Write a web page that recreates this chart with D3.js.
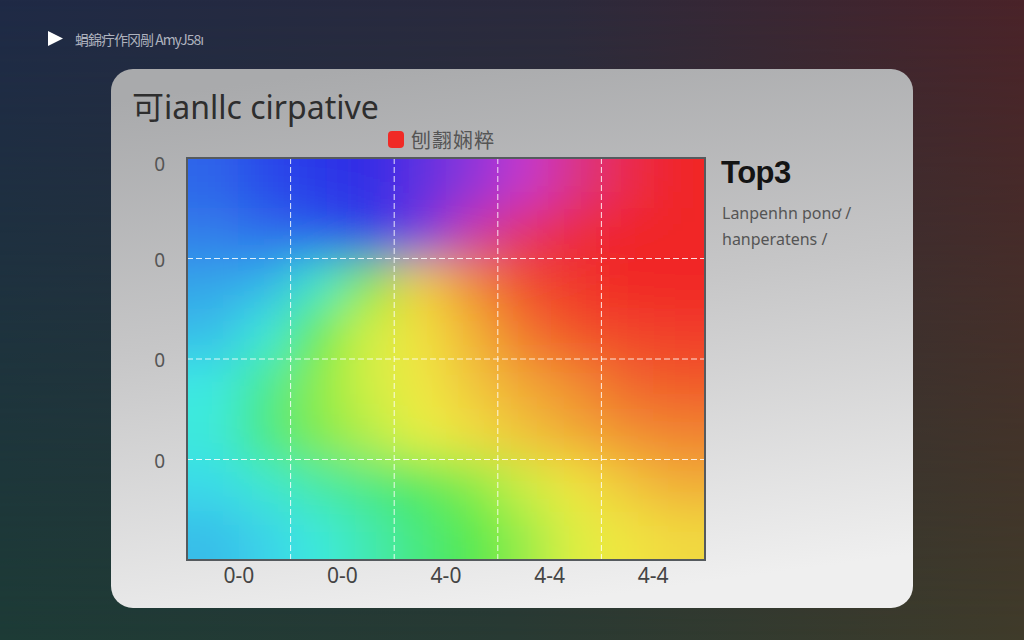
<!DOCTYPE html>
<html>
<head>
<meta charset="utf-8">
<script src="https://cdn.jsdelivr.net/npm/d3@7"></script>
<style>
  html, body { margin: 0; padding: 0; width: 1024px; height: 640px; overflow: hidden; background: #222; }
  svg { display: block; }
</style>
</head>
<body>
<svg id="chart" width="1024" height="640"></svg>
<script>
// ---------------- DATA ----------------
const pageTitle = "蜎錦疔作冈剮 AmyJ58ı";
const chartTitle = "可ianllc cirpative";
const legendLabel = "刨翿娴粹";
const sideTitle = "Top3";
const sideLines = ["Lanpenhn ponơ /", "hanperatens  /"];
const xCategories = ["0-0", "0-0", "4-0", "4-4", "4-4"];
const yTickLabels = ["0", "0", "0", "0"];
// hue value sampled on a 10 x 8 grid (rows top -> bottom)
const hueRow0 = [222, 230, 236, 242, 255, 272, 296, 330, 350, 0];
const hueRow1 = [215, 220, 226, 234, 262, 312, 342, 354, 0, 0];
const hueRow2 = [203, 198, 170, 100, 48, 28, 10, 4, 0, 0];
const hueRow3 = [195, 175, 112, 70, 55, 40, 22, 12, 8, 6];
const hueRow4 = [178, 148, 96, 70, 57, 46, 36, 28, 18, 14];
const hueRow5 = [175, 140, 100, 80, 63, 54, 45, 37, 30, 26];
const hueRow6 = [185, 172, 155, 140, 125, 98, 72, 56, 46, 38];
const hueRow7 = [195, 188, 176, 160, 140, 118, 92, 66, 56, 52];
const hueGrid = [hueRow0, hueRow1, hueRow2, hueRow3, hueRow4, hueRow5, hueRow6, hueRow7];

// ---------------- LAYOUT ----------------
const svg = d3.select("#chart");
const W = 1024, H = 640;
const card = { x: 111, y: 69, w: 802, h: 539, r: 22 };
const plot = { left: 187, right: 705, top: 158, bottom: 560 };

const defs = svg.append("defs");

// page background: four-corner blend
const bgH = defs.append("linearGradient").attr("id", "bgTop").attr("x1", 0).attr("x2", 1).attr("y1", 0).attr("y2", 0);
bgH.append("stop").attr("offset", 0).attr("stop-color", "#1f2a46");
bgH.append("stop").attr("offset", 0.55).attr("stop-color", "#2c2a3c");
bgH.append("stop").attr("offset", 1).attr("stop-color", "#4a2329");
const bgB = defs.append("linearGradient").attr("id", "bgBot").attr("x1", 0).attr("x2", 1).attr("y1", 0).attr("y2", 0);
bgB.append("stop").attr("offset", 0).attr("stop-color", "#1d3b36");
bgB.append("stop").attr("offset", 0.5).attr("stop-color", "#283a33");
bgB.append("stop").attr("offset", 1).attr("stop-color", "#3f3b2a");
const fade = defs.append("linearGradient").attr("id", "fadeV").attr("x1", 0).attr("x2", 0).attr("y1", 0).attr("y2", 1);
fade.append("stop").attr("offset", 0).attr("stop-color", "white").attr("stop-opacity", 0);
fade.append("stop").attr("offset", 1).attr("stop-color", "white").attr("stop-opacity", 1);
const mask = defs.append("mask").attr("id", "fadeMask");
mask.append("rect").attr("width", W).attr("height", H).attr("fill", "url(#fadeV)");

svg.append("rect").attr("width", W).attr("height", H).attr("fill", "url(#bgTop)");
svg.append("rect").attr("width", W).attr("height", H).attr("fill", "url(#bgBot)").attr("mask", "url(#fadeMask)");

// card gradient
const cg = defs.append("linearGradient").attr("id", "cardGrad").attr("x1", 0.3).attr("x2", 0.5).attr("y1", 0).attr("y2", 1);
cg.append("stop").attr("offset", 0).attr("stop-color", "#a9aaac");
cg.append("stop").attr("offset", 0.45).attr("stop-color", "#c6c6c7");
cg.append("stop").attr("offset", 1).attr("stop-color", "#efefef");
svg.append("rect")
  .attr("x", card.x).attr("y", card.y).attr("width", card.w).attr("height", card.h)
  .attr("rx", card.r).attr("fill", "url(#cardGrad)");

// ---------------- HEADER ----------------
svg.append("path")
  .attr("d", d3.line()([[48, 31], [63, 38.5], [48, 46]]) + "Z")
  .attr("fill", "#ffffff");
svg.append("text").attr("x", 75).attr("y", 45)
  .attr("font-family", "'Noto Sans CJK SC', 'Liberation Sans', sans-serif")
  .attr("font-size", 14).attr("fill", "#aeb2be").attr("letter-spacing", -1)
  .text(pageTitle);

svg.append("text").attr("x", 132).attr("y", 119)
  .attr("font-family", "'Noto Sans', 'Noto Sans CJK SC', sans-serif")
  .attr("font-size", 32).attr("fill", "#2e2e2e")
  .text(chartTitle);

// legend
svg.append("rect").attr("x", 388).attr("y", 131).attr("width", 16).attr("height", 17).attr("rx", 4)
  .attr("fill", "#f02a26");
svg.append("text").attr("x", 411).attr("y", 148)
  .attr("font-family", "'Noto Sans CJK SC', sans-serif")
  .attr("font-size", 20).attr("fill", "#555555").attr("letter-spacing", 1)
  .text(legendLabel);

// ---------------- HEATMAP ----------------
const nCols = hueGrid[0].length, nRows = hueGrid.length;
const gx = d3.scaleLinear().domain([0, nCols]).range([plot.left, plot.right]);
const gy = d3.scaleLinear().domain([0, nRows]).range([plot.top, plot.bottom]);
const lightByHue = d3.scaleLinear()
  .domain([0, 30, 55, 120, 190, 230, 270, 310, 340, 360])
  .range([0.55, 0.57, 0.6, 0.61, 0.57, 0.54, 0.53, 0.5, 0.54, 0.55]);
const satByHue = d3.scaleLinear()
  .domain([0, 55, 120, 190, 230, 270, 310, 340, 360])
  .range([0.88, 0.86, 0.78, 0.8, 0.82, 0.7, 0.55, 0.75, 0.88]);
const color = h => d3.hsl(h, satByHue(h), lightByHue(h)).formatHex();

defs.append("clipPath").attr("id", "plotClip")
  .append("rect").attr("x", plot.left).attr("y", plot.top)
  .attr("width", plot.right - plot.left).attr("height", plot.bottom - plot.top);
const blur = defs.append("filter").attr("id", "soft")
  .attr("x", "-10%").attr("y", "-10%").attr("width", "120%").attr("height", "120%");
blur.append("feGaussianBlur").attr("stdDeviation", 24);

const cells = [];
hueGrid.forEach((row, j) => row.forEach((h, i) => cells.push({ i, j, h })));
const ext = 80;
const heat = svg.append("g").attr("clip-path", "url(#plotClip)")
  .append("g").attr("filter", "url(#soft)");
heat.selectAll("rect").data(cells).join("rect")
  .attr("x", d => gx(d.i) - (d.i === 0 ? ext : 0))
  .attr("y", d => gy(d.j) - (d.j === 0 ? ext : 0))
  .attr("width", d => gx(d.i + 1) - gx(d.i) + (d.i === 0 ? ext : 0) + (d.i === nCols - 1 ? ext : 0) + 0.5)
  .attr("height", d => gy(d.j + 1) - gy(d.j) + (d.j === 0 ? ext : 0) + (d.j === nRows - 1 ? ext : 0) + 0.5)
  .attr("fill", d => color(d.h));

// axes scales
const xBand = d3.scaleBand().domain(d3.range(xCategories.length)).range([plot.left, plot.right]);
const yLin = d3.scaleLinear().domain([0, yTickLabels.length]).range([plot.top, plot.bottom]);

// gridlines
const grid = svg.append("g").attr("stroke", "#ffffff").attr("stroke-opacity", 0.85)
  .attr("stroke-width", 1).attr("stroke-dasharray", "6,3");
grid.selectAll("line.v").data(d3.range(1, xCategories.length)).join("line").attr("class", "v")
  .attr("x1", d => xBand(d)).attr("x2", d => xBand(d))
  .attr("y1", plot.top).attr("y2", plot.bottom);
grid.selectAll("line.h").data(d3.range(1, yTickLabels.length)).join("line").attr("class", "h")
  .attr("x1", plot.left).attr("x2", plot.right)
  .attr("y1", d => yLin(d)).attr("y2", d => yLin(d));

// frame
svg.append("rect").attr("x", plot.left).attr("y", plot.top)
  .attr("width", plot.right - plot.left).attr("height", plot.bottom - plot.top)
  .attr("fill", "none").attr("stroke", "#555a5e").attr("stroke-width", 2);

// x axis labels
const xAxis = d3.axisBottom(xBand).tickSize(0).tickPadding(8).tickFormat(i => xCategories[i]);
const xg = svg.append("g").attr("transform", `translate(0,${plot.bottom})`).call(xAxis);
xg.select(".domain").remove();
xg.selectAll("text").attr("font-family", "'Noto Sans', sans-serif")
  .attr("font-size", 21).attr("fill", "#444444");

// y axis labels
const yAxis = d3.axisLeft(yLin).tickValues(d3.range(yTickLabels.length)).tickSize(0).tickPadding(22)
  .tickFormat(i => yTickLabels[i]);
const yg = svg.append("g").attr("transform", `translate(${plot.left},0)`).call(yAxis);
yg.select(".domain").remove();
yg.selectAll(".tick").attr("transform", d => `translate(0,${yLin(d) + (d === 0 ? 7 : 2)})`);
yg.selectAll("text").attr("font-family", "'Noto Sans', sans-serif")
  .attr("font-size", 19).attr("fill", "#555555");

// ---------------- SIDE TEXT ----------------
svg.append("text").attr("x", 721).attr("y", 183)
  .attr("font-family", "'Liberation Sans', sans-serif").attr("font-weight", "bold")
  .attr("font-size", 31).attr("fill", "#141414").attr("letter-spacing", -0.5).text(sideTitle);
svg.selectAll("text.side").data(sideLines).join("text").attr("class", "side")
  .attr("x", 722).attr("y", (d, i) => 219 + i * 26)
  .attr("font-family", "'Noto Sans', sans-serif")
  .attr("font-size", 16).attr("fill", "#555555").text(d => d);
</script>
</body>
</html>
